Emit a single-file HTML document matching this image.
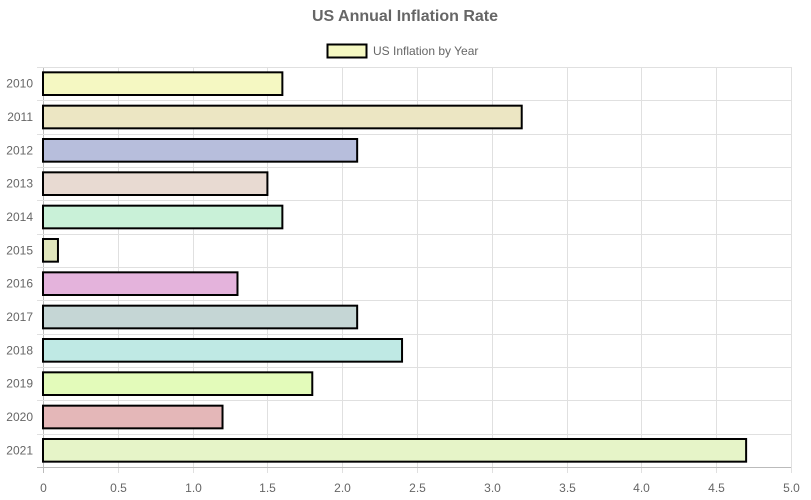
<!DOCTYPE html>
<html><head><meta charset="utf-8"><style>
body{margin:0;background:#fff;}
svg{display:block;font-family:"Liberation Sans",Arial,sans-serif;}
</style></head><body>
<svg id="chart" width="811" height="500">
<text x="405" y="21" text-anchor="middle" font-size="16" font-weight="bold" fill="#666">US Annual Inflation Rate</text>
<g>
<rect x="327.5" y="44.5" width="39" height="13" fill="#f5f8c2" stroke="#000" stroke-width="2"/>
<text x="373" y="55" font-size="12" fill="#666">US Inflation by Year</text>
</g>
<g id="grid"></g><g id="bars"></g><g id="labels"></g>
</svg>
<script>
const categories=["2010","2011","2012","2013","2014","2015","2016","2017","2018","2019","2020","2021"];
const values=[1.6,3.2,2.1,1.5,1.6,0.1,1.3,2.1,2.4,1.8,1.2,4.7];
const colors=["#f5f8c2","#ece6c3","#b7bedc","#e8dad2","#c9f1d8","#e0e6bc","#e4b3dc","#c5d6d5","#bfe9e4","#e3fbba","#e4b7b8","#e6f4c8"];
const xTicks=["0","0.5","1.0","1.5","2.0","2.5","3.0","3.5","4.0","4.5","5.0"];
const xMax=5;
const L=43,R=791,T=67,B=467;
const NS="http://www.w3.org/2000/svg";
const xs=v=>L+(v/xMax)*(R-L);
const rowH=(B-T)/categories.length;
const ys=i=>T+i*rowH;
function mk(tag,attrs,parent){const e=document.createElementNS(NS,tag);for(const k in attrs)e.setAttribute(k,attrs[k]);document.getElementById(parent).appendChild(e);return e;}
xTicks.forEach((t,i)=>{const v=parseFloat(t);const x=Math.round(xs(v))+0.5;
const g=mk('line',{x1:x,x2:x,y1:T,y2:B+6,stroke:i==0?'#bbb':'#e0e0e0'},'grid');


const tx=mk('text',{x:x,y:B+25,'text-anchor':'middle','font-size':12,fill:'#666'},'labels');tx.textContent=t;

});
for(let i=0;i<=categories.length;i++){const y=Math.round(ys(i))+0.5;
const g=mk('line',{x1:L-6,x2:R,y1:y,y2:y,stroke:i==categories.length?'#bbb':'#e0e0e0'},'grid');

}
categories.forEach((c,i)=>{const h=rowH*0.68;const y=ys(i)+(rowH-h)/2;
const r=mk('rect',{x:L,y:y,width:xs(values[i])-L,height:h,fill:colors[i],stroke:'#000','stroke-width':2},'bars');


const tx=mk('text',{x:33,y:ys(i)+rowH/2+4,'text-anchor':'end','font-size':12,fill:'#666'},'labels');tx.textContent=c;

});
</script>
</body></html>
